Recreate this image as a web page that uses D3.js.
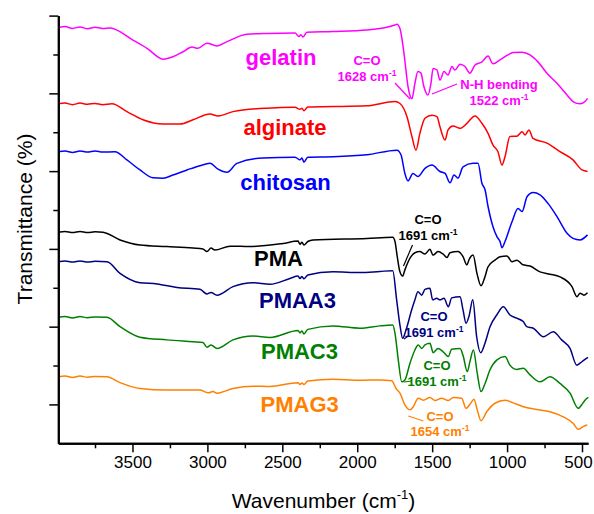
<!DOCTYPE html>
<html><head><meta charset="utf-8">
<script src="https://cdn.jsdelivr.net/npm/d3@7"></script>
<style>body{margin:0;background:#fff}svg{display:block}text{font-family:"Liberation Sans",Arial,sans-serif}</style>
</head><body>
<script>
// ---------- DATA (wavenumber cm-1, transmittance offset a.u.) ----------
const gelatin = [[3995,106.9],[3950,107.2],[3900,106.7],[3850,107.1],[3800,106.6],[3750,107.0],[3700,106.7],[3650,106.8],[3497,103.7],[3403,101.6],[3296,98.8],[3230,99.4],[3163,100.7],[3103,101.9],[3063,101.6],[3003,102.9],[2936,102.2],[2869,103.3],[2736,105.2],[2602,105.4],[2415,105.5],[2389,104.6],[2376,105.1],[2362,104.5],[2336,105.7],[2162,105.9],[1936,106.3],[1748,107.6],[1735,107.8],[1715,106.7],[1688,100.3],[1661,91.7],[1635,88.6],[1615,92.6],[1595,95.6],[1575,95.2],[1555,91.7],[1528,89.6],[1508,92.6],[1494,96.4],[1468,96.0],[1448,93.4],[1421,95.6],[1394,94.7],[1368,96.9],[1348,96.0],[1314,97.5],[1281,96.9],[1248,95.2],[1214,97.3],[1168,98.1],[1127,99.6],[1094,97.6],[1047,98.6],[994,99.9],[961,100.5],[900,100.6],[847,99.9],[794,98.1],[734,95.2],[667,92.6],[600,89.6],[560,87.9],[513,87.3],[480,87.9],[463,88.7]];
const alginate = [[3995,87.3],[3950,87.5],[3900,87.1],[3850,87.5],[3800,87.2],[3750,87.4],[3700,87.1],[3637,87.3],[3537,85.3],[3430,83.2],[3296,82.1],[3183,82.1],[3096,83.2],[2983,84.7],[2929,84.2],[2829,85.3],[2602,86.2],[2415,86.4],[2382,85.9],[2369,86.2],[2356,85.5],[2330,86.5],[2162,86.6],[1936,86.8],[1748,87.9],[1715,87.4],[1668,84.0],[1635,78.9],[1608,75.4],[1582,79.7],[1548,83.6],[1501,84.4],[1468,84.0],[1448,81.4],[1414,78.0],[1394,80.6],[1361,81.6],[1314,81.0],[1268,82.3],[1214,84.2],[1168,82.3],[1127,79.7],[1094,76.7],[1061,75.0],[1034,71.6],[1014,73.7],[981,78.9],[934,79.0],[900,80.1],[880,79.3],[854,80.6],[827,78.4],[734,77.2],[647,75.0],[560,72.9],[500,70.3],[463,69.9]];
const chitosan = [[3995,75.0],[3950,75.2],[3900,74.8],[3850,75.2],[3800,74.9],[3750,75.2],[3700,74.9],[3617,75.0],[3537,72.9],[3450,70.3],[3363,68.3],[3296,68.2],[3230,69.0],[3136,70.3],[3050,71.4],[2983,72.0],[2929,70.5],[2869,69.7],[2803,72.0],[2629,73.4],[2415,73.6],[2382,72.9],[2369,73.4],[2356,72.3],[2330,73.6],[2162,73.7],[1936,74.2],[1735,75.4],[1708,74.2],[1682,69.4],[1661,67.5],[1628,69.4],[1595,68.6],[1548,70.7],[1501,71.6],[1448,69.9],[1414,69.4],[1381,67.0],[1354,69.0],[1328,68.2],[1294,71.1],[1227,72.0],[1194,72.0],[1168,66.9],[1147,65.2],[1127,60.9],[1094,55.7],[1067,53.1],[1047,51.9],[1034,50.3],[1014,51.9],[967,57.0],[927,60.4],[900,59.6],[867,63.4],[827,64.5],[780,63.9],[727,61.7],[667,58.3],[600,54.0],[560,52.7],[513,52.3],[463,53.6]];
const pma = [[3995,54.3],[3950,54.5],[3900,54.2],[3850,54.5],[3800,54.2],[3750,54.4],[3697,54.3],[3583,52.3],[3450,51.0],[3270,50.6],[3096,50.2],[3030,50.0],[3003,49.3],[2976,50.2],[2950,49.7],[2849,50.7],[2716,50.6],[2496,51.4],[2395,52.0],[2382,51.2],[2369,51.7],[2356,51.0],[2330,51.9],[2295,52.3],[1936,52.7],[1763,53.0],[1748,51.9],[1733,48.0],[1715,44.1],[1697,43.0],[1682,44.6],[1648,47.6],[1615,49.0],[1582,49.3],[1548,48.7],[1515,49.9],[1494,48.4],[1461,49.3],[1428,48.7],[1401,47.8],[1381,49.0],[1328,49.3],[1294,48.0],[1268,45.9],[1254,47.2],[1227,48.4],[1201,43.7],[1174,40.5],[1147,42.9],[1127,45.4],[1081,47.1],[1047,48.0],[1001,48.2],[967,46.7],[934,47.1],[894,45.9],[847,45.6],[780,44.1],[714,43.5],[647,42.8],[567,40.3],[533,37.7],[513,38.6],[487,38.1],[463,38.7]];
const pmaa3 = [[3995,46.7],[3950,46.9],[3900,46.6],[3850,46.9],[3800,46.6],[3750,46.8],[3670,46.7],[3583,43.7],[3450,41.3],[3336,41.0],[3203,40.1],[3050,39.6],[3003,38.4],[2976,38.8],[2936,38.1],[2829,40.3],[2696,41.3],[2582,40.9],[2449,42.4],[2395,43.0],[2382,42.4],[2369,42.9],[2356,42.3],[2330,43.3],[2162,44.1],[1982,43.9],[1849,44.2],[1763,44.4],[1737,36.9],[1715,30.4],[1697,27.0],[1675,29.1],[1637,34.3],[1615,36.9],[1595,39.0],[1570,38.1],[1548,39.6],[1515,39.9],[1497,36.9],[1470,37.3],[1448,36.9],[1421,37.3],[1392,35.1],[1370,37.4],[1314,37.7],[1294,34.3],[1274,30.9],[1254,32.7],[1229,36.9],[1203,27.4],[1176,23.3],[1147,25.8],[1114,30.0],[1069,33.0],[1025,35.1],[981,33.0],[936,32.2],[892,31.3],[869,30.0],[825,29.6],[758,27.4],[692,28.7],[636,26.6],[580,24.4],[535,20.1],[513,20.6],[487,21.4],[460,22.1]];
const pmac3 = [[3995,32.4],[3950,32.6],[3900,32.2],[3850,32.6],[3800,32.3],[3750,32.5],[3670,32.4],[3583,30.0],[3450,27.3],[3270,26.6],[3096,26.1],[3030,25.9],[3003,24.7],[2976,25.3],[2936,24.4],[2829,26.6],[2696,27.6],[2582,27.2],[2395,29.0],[2382,28.4],[2369,28.9],[2356,28.1],[2330,29.3],[2162,30.2],[1982,29.6],[1849,30.2],[1763,30.4],[1748,28.3],[1726,21.4],[1703,15.8],[1682,16.3],[1648,20.6],[1615,24.0],[1593,25.3],[1570,24.4],[1548,25.3],[1515,25.7],[1493,23.3],[1461,24.4],[1428,23.6],[1392,22.3],[1370,24.2],[1314,24.4],[1292,22.3],[1266,18.4],[1248,21.0],[1225,24.0],[1199,18.0],[1174,13.3],[1147,15.4],[1114,18.9],[1069,21.4],[1014,22.3],[981,20.1],[936,19.0],[892,19.3],[847,17.6],[780,15.8],[714,17.1],[647,15.4],[580,12.9],[525,9.0],[502,9.9],[480,11.1],[458,11.8]];
const pmag3 = [[3995,17.1],[3950,17.3],[3900,16.9],[3850,17.3],[3800,17.0],[3750,17.2],[3670,17.1],[3583,15.6],[3450,14.1],[3270,13.7],[3050,13.7],[2997,13.0],[2963,13.3],[2936,12.9],[2829,14.1],[2696,14.7],[2582,14.6],[2395,15.6],[2382,15.1],[2369,15.5],[2356,15.1],[2330,16.0],[2162,16.5],[1982,16.2],[1849,16.3],[1770,16.1],[1741,14.1],[1715,12.9],[1682,9.9],[1648,8.6],[1626,9.4],[1593,11.6],[1559,11.1],[1515,11.8],[1481,11.0],[1437,11.6],[1392,11.0],[1359,11.8],[1303,11.6],[1274,9.0],[1243,10.3],[1221,11.3],[1199,8.6],[1174,5.8],[1136,8.1],[1081,10.3],[1014,11.1],[959,10.4],[892,9.4],[802,8.7],[714,8.1],[625,6.8],[558,5.1],[525,3.6],[493,4.3],[465,4.7]];

const seriesNames = ["gelatin","alginate","chitosan","PMA","PMAA3","PMAC3","PMAG3"];
const seriesData = [gelatin, alginate, chitosan, pma, pmaa3, pmac3, pmag3];
const xMajorTicks = [3500,3000,2500,2000,1500,1000,500];
const xMinorTicks = [3750,3250,2750,2250,1750,1250,750];
const yMajorTicks = [10,30,50,70,90,110];
const yMinorTicks = [20,40,60,80,100];

// ---------- STYLE / LAYOUT ----------
const colors = ["#ff00ff","#ff0000","#0000ff","#000000","#000080","#008000","#ff8000"];
const labelPos = [[281,65],[285,135],[285.5,190],[278.5,266],[297.5,308.3],[299.5,359],[299.7,411.7]];
const W = 594, H = 514;
const m = {left:58.3, right:588, top:15.6, bottom:443.3};

const svg = d3.select("body").append("svg").attr("width",W).attr("height",H);
svg.append("rect").attr("width",W).attr("height",H).attr("fill","#fff");

const x = d3.scaleLinear().domain([3995,460]).range([m.left,m.right]);
const y = d3.scaleLinear().domain([0,110]).range([m.bottom,m.top]);

const line = d3.line().x(d=>x(d[0])).y(d=>y(d[1])).curve(d3.curveMonotoneX);

seriesData.forEach((s,i)=>{
  svg.append("path").datum(s).attr("d",line).attr("fill","none")
    .attr("stroke",colors[i]).attr("stroke-width",1.5).attr("stroke-linejoin","round");
});

// axes
const gx = svg.append("g").attr("transform",`translate(0,${m.bottom})`);
gx.call(d3.axisBottom(x).tickValues(xMajorTicks).tickSize(9).tickSizeOuter(0).tickPadding(4).tickFormat(d3.format("d")));
gx.append("g").call(d3.axisBottom(x).tickValues(xMinorTicks).tickSize(5).tickSizeOuter(0).tickFormat(""));
const gy = svg.append("g").attr("transform",`translate(${m.left},0)`);
gy.call(d3.axisLeft(y).tickValues(yMajorTicks).tickSize(9).tickSizeOuter(0).tickFormat(""));
gy.append("g").call(d3.axisLeft(y).tickValues(yMinorTicks).tickSize(5).tickSizeOuter(0).tickFormat(""));
svg.selectAll(".domain").attr("stroke","#000").attr("stroke-width",2);
svg.selectAll(".tick line").attr("stroke","#000").attr("stroke-width",1.5);
gx.selectAll(".tick text").attr("font-size",17).attr("fill","#000").attr("font-family","Liberation Sans, Arial, sans-serif")
  .attr("dx", d => d === 500 ? -4 : 0);

// axis titles
const xt = svg.append("text").attr("x",323.5).attr("y",508).attr("text-anchor","middle").attr("font-size",21);
xt.append("tspan").text("Wavenumber (cm");
xt.append("tspan").text("-1").attr("font-size",13).attr("dy",-9);
xt.append("tspan").text(")").attr("dy",9);
svg.append("text").attr("transform","translate(32,219) rotate(-90)").attr("text-anchor","middle")
  .attr("font-size",21).text("Transmittance (%)");

// series labels
seriesNames.forEach((n,i)=>{
  svg.append("text").attr("x",labelPos[i][0]).attr("y",labelPos[i][1]).attr("text-anchor","middle")
    .attr("font-size",22).attr("font-weight","bold").attr("fill",colors[i]).text(n);
});

// annotations
function ann(cx, by, lines, color){
  lines.forEach((l,k)=>{
    const t = svg.append("text").attr("x",cx).attr("y",by+k*15.5).attr("text-anchor","middle")
      .attr("font-size",13).attr("font-weight","bold").attr("fill",color);
    if(l.endsWith(" cm")){ t.append("tspan").text(l); t.append("tspan").text("-1").attr("font-size",8.5).attr("dy",-5); }
    else t.text(l);
  });
}
function leader(x1,y1,x2,y2,color){
  svg.append("line").attr("x1",x1).attr("y1",y1).attr("x2",x2).attr("y2",y2).attr("stroke",color).attr("stroke-width",1.2);
}
ann(367,65,["C=O","1628 cm"],colors[0]);
leader(395,83,410,99,colors[0]);
ann(499,89.3,["N-H bending","1522 cm"],colors[0]);
leader(432,94,457,84,colors[0]);
ann(428,224,["C=O","1691 cm"],colors[3]);
leader(403.5,266,412.5,245,colors[3]);
ann(434,321,["C=O","1691 cm"],colors[4]);
leader(404,339,409,335.5,colors[4]);
ann(437,370,["C=O","1691 cm"],colors[5]);
leader(404,382,412,381,colors[5]);
ann(440,420.5,["C=O","1654 cm"],colors[6]);
leader(408.3,416,423.3,421,colors[6]);
</script>
</body></html>
